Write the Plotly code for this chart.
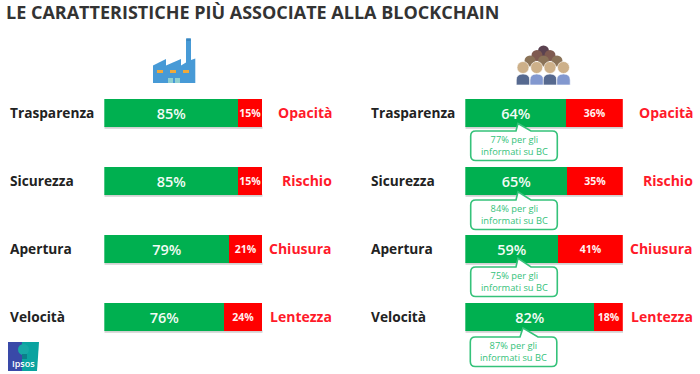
import plotly.graph_objects as go

W, H = 700, 374

title = "LE CARATTERISTICHE PIÙ ASSOCIATE ALLA BLOCKCHAIN"
traits = ["Trasparenza", "Sicurezza", "Apertura", "Velocità"]
opposites = ["Opacità", "Rischio", "Chiusura", "Lentezza"]
business_pos = [85, 85, 79, 76]
business_neg = [15, 15, 21, 24]
public_pos = [64, 65, 59, 82]
public_neg = [36, 35, 41, 18]
informed = [77, 84, 75, 87]

GREEN = "#00b050"
RED = "#ff0000"
CALL = "#35c27a"


def px(x):
    return x / W


def py(y):
    return 1 - y / H


def shp(kind, x0, y0, x1, y1, fill, line=None, lw=0, layer="above"):
    return dict(type=kind, xref="paper", yref="paper", x0=px(x0), y0=py(y0), x1=px(x1), y1=py(y1),
                fillcolor=fill, line=dict(color=line or fill, width=lw), layer=layer)


def path(points, fill, line=None, lw=0, layer="above", close=True):
    d = ""
    for i, p in enumerate(points):
        if len(p) == 2:
            d += f"{'M' if i == 0 else 'L'}{px(p[0]):.5f},{py(p[1]):.5f} "
        else:
            d += f"Q{px(p[0]):.5f},{py(p[1]):.5f} {px(p[2]):.5f},{py(p[3]):.5f} "
    if close:
        d += "Z"
    return dict(type="path", xref="paper", yref="paper", path=d, fillcolor=fill,
                line=dict(color=line or fill, width=lw), layer=layer)


fig = go.Figure()
for axis_x, pos, neg in (("x", business_pos, business_neg), ("x2", public_pos, public_neg)):
    fig.add_bar(y=traits, x=pos, orientation="h", xaxis=axis_x, yaxis="y", width=0.404,
                marker=dict(color=GREEN, line=dict(width=0)), showlegend=False,
                text=[f"{v}%" for v in pos], textposition="inside", insidetextanchor="middle",
                constraintext="none", textangle=0,
                textfont=dict(family="Open Sans", size=14.5, color="#f2fbf5", weight=600))
    fig.add_bar(y=traits, x=neg, orientation="h", xaxis=axis_x, yaxis="y", width=0.404,
                marker=dict(color=RED, line=dict(width=0)), showlegend=False,
                text=[f"{v}%" for v in neg], textposition="inside", insidetextanchor="middle",
                constraintext="none", textangle=0,
                textfont=dict(family="Open Sans", size=10.5, color="#fff0f0", weight=700))

shapes, ann = [], []
row_y = [113.3, 181.3, 249.3, 317.3]
tip_y = [123.5, 191.7, 258.3, 328]
box_y = [131, 200, 267, 337]

for i, yc in enumerate(row_y):
    shapes.append(shp("rect", 104.5, yc + 13, 262.5, yc + 15.5, "rgba(90,90,90,0.28)", layer="below"))
    shapes.append(shp("rect", 465.5, yc + 13, 623, yc + 15.5, "rgba(90,90,90,0.28)", layer="below"))
    for xl, xr in ((10, 332), (371, 693)):
        ann.append(dict(xref="paper", yref="paper", x=px(xl), y=py(yc - 0.5), text=traits[i], showarrow=False,
                        xanchor="left", yanchor="middle", xshift=-2,
                        font=dict(family="Open Sans", size=13.7, color="#222222", weight=700)))
        ann.append(dict(xref="paper", yref="paper", x=px(xr), y=py(yc - 0.5), text=opposites[i], showarrow=False,
                        xanchor="right", yanchor="middle", xshift=2,
                        font=dict(family="Open Sans", size=14, color="#ff1a2a", weight=700)))
    x0, x1 = (470.7, 557.3) if i < 3 else (470.3, 556.8)
    t, b = box_y[i], box_y[i] + 29.5
    tx, bl, br = (518, 516, 531) if i < 3 else (523, 520, 538)
    r = 5
    shapes.append(path([(x0 + r, t), (bl, t), (tx, tip_y[i]), (br, t), (x1 - r, t), (x1, t, x1, t + r),
                        (x1, b - r), (x1, b, x1 - r, b), (x0 + r, b), (x0, b, x0, b - r), (x0, t + r),
                        (x0, t, x0 + r, t)], "white", CALL, 1.6))
    ann.append(dict(xref="paper", yref="paper", x=px((x0 + x1) / 2), y=py((t + b) / 2),
                    text=f"{informed[i]}% per gli<br>informati su BC", showarrow=False,
                    xanchor="center", yanchor="middle", align="center",
                    font=dict(family="Open Sans", size=9.3, color=CALL)))

BLUE = "#479ad6"
shapes.append(path([(153, 65.5), (166, 59), (166, 65.5), (181, 59), (181, 65.5), (186, 62.5), (186, 38.5),
                    (191, 38.5), (191, 60), (195.3, 58.5), (195.3, 83), (153, 83)], BLUE))
shapes.append(shp("rect", 186.5, 38.5, 190.5, 41, "#3a86bf"))
for xw in (157, 170, 183):
    shapes.append(shp("rect", xw, 70, xw + 6, 73, "#f0a93a"))
for xd in (168, 175):
    shapes.append(shp("rect", xd, 78, xd + 5, 83, "#8fd0d0"))

for xs, ys, col in (([543.5], 51, "#5b4250"), ([537, 550], 55.5, "#7f5a50"), ([530, 543.5, 557], 61, "#8b7358")):
    for xc in xs:
        shapes.append(shp("circle", xc - 5.5, ys - 5.5, xc + 5.5, ys + 5.5, col))
for j, xc in enumerate((523, 536.7, 550, 563.5)):
    col = "#56698f" if j % 2 == 0 else "#8298cf"
    shapes.append(path([(xc - 6.7, 85), (xc - 6.7, 80), (xc - 6.7, 74, xc, 74), (xc + 6.7, 74, xc + 6.7, 80),
                        (xc + 6.7, 85)], col, "white", 0.6))
    shapes.append(shp("circle", xc - 6, 61.5, xc + 6, 73.5, "#cdb089", "white", 0.6))

shapes.append(path([(8, 342), (22, 342), (22, 371), (8, 371)], "#3949a8"))
shapes.append(path([(22, 342), (39, 342), (38, 358, 37, 371), (22, 371)], "#0aa3a0"))
shapes.append(shp("circle", 18, 344, 29, 355, "#17a8a6"))
shapes.append(shp("rect", 22, 354, 27, 359, "#0b7f8a"))
ann.append(dict(xref="paper", yref="paper", x=px(23), y=py(363.5), text="Ipsos", showarrow=False,
                xanchor="center", yanchor="middle",
                font=dict(family="Open Sans", size=9, color="white", weight=600)))

fig.update_layout(
    width=W, height=H, barmode="stack", bargap=0, paper_bgcolor="white", plot_bgcolor="white",
    margin=dict(l=0, r=0, t=0, b=0), showlegend=False,
    title=dict(text=title, x=px(6), xanchor="left", xref="paper", y=py(13), yanchor="middle", yref="container",
               pad=dict(l=0, t=0, b=0, r=0),
               font=dict(family="Open Sans", size=18, color="#333333", weight=700)),
    xaxis=dict(domain=[px(104.3), px(262.3)], range=[0, 100], visible=False, fixedrange=True),
    xaxis2=dict(domain=[px(465.3), px(622.8)], range=[0, 100], visible=False, fixedrange=True, anchor="y"),
    yaxis=dict(domain=[py(351.3), py(79.3)], categoryorder="array", categoryarray=traits,
               range=[3.5, -0.5], visible=False, fixedrange=True),
    shapes=shapes, annotations=ann,
)
fig.write_html("out.html", config=dict(displayModeBar=False),
               post_script="document.body.style.margin='0';document.documentElement.style.overflow='hidden';")
